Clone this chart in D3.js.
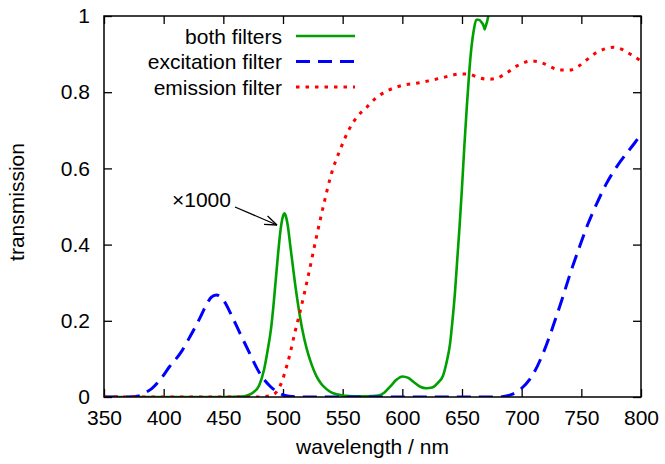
<!DOCTYPE html>
<html>
<head>
<meta charset="utf-8">
<script src="https://cdn.jsdelivr.net/npm/d3@7"></script>
<style>
  html, body { margin: 0; padding: 0; background: #fff; }
  svg { display: block; font-family: "Liberation Sans", Arial, sans-serif; }
</style>
</head>
<body>
<svg id="chart" width="665" height="464"></svg>
<script>
// Combined filter transmission (scaled ×1000)
const bothWl = [350, 400, 450, 465, 470, 475, 480, 484, 487, 490, 492, 494, 496, 498, 500, 501, 502, 504, 506, 508, 510, 513, 516, 520, 524, 528, 532, 536, 540, 545, 550, 560, 570, 580, 585, 590, 595, 600, 605, 610, 615, 620, 625, 630, 634, 637, 640, 642, 644, 646, 648, 650, 652, 654, 656, 658, 660, 662, 664, 666, 668, 669, 670, 671, 672, 674, 678];
const bothT = [0, 0, 0, 0.001, 0.004, 0.012, 0.03, 0.07, 0.12, 0.18, 0.24, 0.31, 0.38, 0.44, 0.475, 0.482, 0.478, 0.45, 0.40, 0.35, 0.30, 0.235, 0.18, 0.125, 0.085, 0.055, 0.035, 0.022, 0.013, 0.007, 0.004, 0.002, 0.002, 0.004, 0.012, 0.028, 0.045, 0.054, 0.05, 0.038, 0.027, 0.023, 0.025, 0.038, 0.055, 0.09, 0.14, 0.2, 0.27, 0.36, 0.45, 0.55, 0.66, 0.76, 0.85, 0.92, 0.965, 0.99, 0.99, 0.985, 0.975, 0.965, 0.975, 0.985, 1.0, 1.05, 1.15];

// Excitation filter transmission
const excWl = [350, 370, 378, 385, 390, 397, 405, 414, 422, 430, 436, 440, 444, 448, 452, 456, 464, 472, 480, 489, 497, 505, 515, 600, 680, 690, 700, 710, 718, 726, 734, 741, 748, 755, 763, 771, 780, 788, 795, 800];
const excT = [0, 0, 0.002, 0.012, 0.022, 0.045, 0.08, 0.115, 0.158, 0.205, 0.243, 0.262, 0.268, 0.262, 0.245, 0.22, 0.167, 0.115, 0.065, 0.029, 0.01, 0.002, 0, 0, 0, 0.005, 0.023, 0.062, 0.115, 0.183, 0.258, 0.327, 0.39, 0.45, 0.508, 0.56, 0.606, 0.64, 0.668, 0.69];

// Emission filter transmission
const emWl = [350, 480, 490, 495, 499, 503, 506, 510, 514, 521, 528, 535, 540, 548, 555, 562, 570, 578, 585, 592, 600, 615, 625, 632, 640, 648, 656, 664, 672, 680, 688, 696, 703, 708, 717, 724, 732, 740, 748, 755, 762, 769, 777, 785, 792, 800];
const emT = [0, 0, 0.004, 0.015, 0.04, 0.08, 0.115, 0.17, 0.22, 0.316, 0.42, 0.517, 0.58, 0.65, 0.7, 0.735, 0.76, 0.785, 0.8, 0.81, 0.818, 0.825, 0.832, 0.837, 0.843, 0.848, 0.847, 0.838, 0.834, 0.838, 0.852, 0.869, 0.879, 0.882, 0.877, 0.867, 0.858, 0.858, 0.869, 0.886, 0.903, 0.913, 0.918, 0.911, 0.898, 0.882];

const xTicks = [350, 400, 450, 500, 550, 600, 650, 700, 750, 800];
const yTicks = [0, 0.2, 0.4, 0.6, 0.8, 1];
const seriesNames = ["both filters", "excitation filter", "emission filter"];

const svg = d3.select("#chart");
const pL = 104, pR = 641, pT = 16, pB = 397;

const x = d3.scaleLinear().domain([350, 800]).range([pL, pR]);
const y = d3.scaleLinear().domain([0, 1]).range([pB, pT]);
const FS = 21;

svg.append("defs").append("clipPath").attr("id", "plotclip")
  .append("rect").attr("x", pL).attr("y", pT)
  .attr("width", pR - pL).attr("height", pB - pT);

function styleAxis(g, labels) {
  g.select(".domain").remove();
  g.selectAll(".tick line").attr("stroke", "#000").attr("stroke-width", 1.3);
  g.selectAll(".tick text").attr("font-size", FS).attr("fill", "#000")
    .style("font-family", "'Liberation Sans', Arial, sans-serif");
  if (!labels) g.selectAll(".tick text").remove();
}

svg.append("g").attr("transform", `translate(0,${pB})`)
  .call(d3.axisBottom(x).tickValues(xTicks).tickSizeInner(-8).tickSizeOuter(0).tickPadding(13).tickFormat(d3.format("d")))
  .call(g => styleAxis(g, true));
svg.append("g").attr("transform", `translate(0,${pT})`)
  .call(d3.axisTop(x).tickValues(xTicks).tickSizeInner(-8).tickSizeOuter(0))
  .call(g => styleAxis(g, false));
svg.append("g").attr("transform", `translate(${pL},0)`)
  .call(d3.axisLeft(y).tickValues(yTicks).tickSizeInner(-8).tickSizeOuter(0).tickPadding(14).tickFormat(d => d === 0 || d === 1 ? String(d) : d3.format(".1f")(d)))
  .call(g => styleAxis(g, true));
svg.append("g").attr("transform", `translate(${pR},0)`)
  .call(d3.axisRight(y).tickValues(yTicks).tickSizeInner(-8).tickSizeOuter(0))
  .call(g => styleAxis(g, false));

// Curves
const line = d3.line().x(d => x(d[0])).y(d => y(d[1])).curve(d3.curveMonotoneX);
const zip = (a, b) => a.map((v, i) => [v, b[i]]);

const curves = svg.append("g").attr("clip-path", "url(#plotclip)");
const series = [
  { data: zip(bothWl, bothT), color: "#00a000", width: 2.6, dash: null },
  { data: zip(excWl, excT), color: "#0000ff", width: 3, dash: "14,8" },
  { data: zip(emWl, emT), color: "#ff0000", width: 3, dash: "3.5,6" }
];
series.forEach(s => {
  curves.append("path").datum(s.data)
    .attr("fill", "none").attr("stroke", s.color)
    .attr("stroke-width", s.width)
    .attr("stroke-dasharray", s.dash)
    .attr("d", line);
});

// Frame
svg.append("rect").attr("x", pL).attr("y", pT)
  .attr("width", pR - pL).attr("height", pB - pT)
  .attr("fill", "none").attr("stroke", "#000").attr("stroke-width", 1.5);

// Legend
const legend = svg.append("g");
const legendRows = [36, 61.5, 87];
seriesNames.forEach((name, i) => {
  legend.append("text").attr("x", 282).attr("y", legendRows[i] + 7.5)
    .attr("text-anchor", "end").attr("font-size", FS).attr("fill", "#000").text(name);
  legend.append("line").attr("x1", 296).attr("x2", 355)
    .attr("y1", legendRows[i]).attr("y2", legendRows[i])
    .attr("stroke", series[i].color).attr("stroke-width", series[i].width)
    .attr("stroke-dasharray", series[i].dash);
});

// Scale annotation for the combined curve
svg.append("text").attr("x", 172).attr("y", 207).attr("font-size", FS)
  .attr("fill", "#000").text("×1000");
const ax0 = [235, 207], ax1 = [277, 225];
svg.append("line").attr("x1", ax0[0]).attr("y1", ax0[1]).attr("x2", ax1[0]).attr("y2", ax1[1])
  .attr("stroke", "#000").attr("stroke-width", 1.3);
const ang = Math.atan2(ax1[1] - ax0[1], ax1[0] - ax0[0]);
[-0.35, 0.35].forEach(da => {
  svg.append("line").attr("x1", ax1[0]).attr("y1", ax1[1])
    .attr("x2", ax1[0] - 13 * Math.cos(ang + da)).attr("y2", ax1[1] - 13 * Math.sin(ang + da))
    .attr("stroke", "#000").attr("stroke-width", 1.3);
});

// Axis titles
svg.append("text").attr("x", (pL + pR) / 2).attr("y", 454)
  .attr("text-anchor", "middle").attr("font-size", FS).attr("fill", "#000")
  .text("wavelength / nm");
svg.append("text").attr("transform", "translate(24,202) rotate(-90)")
  .attr("text-anchor", "middle").attr("font-size", FS).attr("fill", "#000")
  .text("transmission");
</script>
</body>
</html>
